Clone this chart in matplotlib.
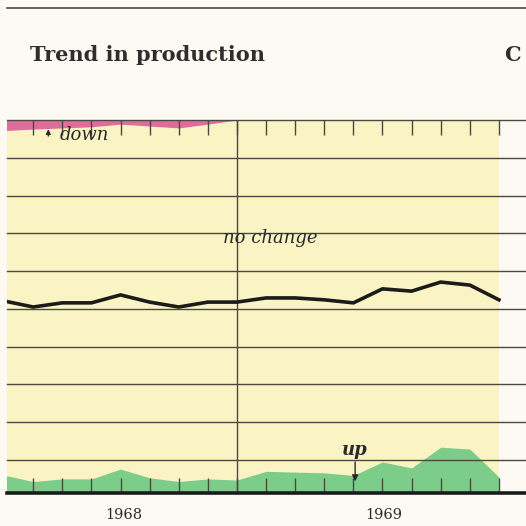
import matplotlib
matplotlib.use("Agg")
import matplotlib.pyplot as plt
from matplotlib.lines import Line2D

# Monthly readings; month 7 is the turn of the year (1968 -> 1969)
months = list(range(-1, 17))
year_turn = 7
years = ["1968", "1969"]
year_centres = [3.1, 12.05]

# Share of firms reporting no change in production (plotted as the line)
no_change = [52.1, 50.5, 51.6, 51.6, 53.7, 51.8, 50.5, 51.8, 51.8,
             52.9, 52.9, 52.4, 51.6, 55.3, 54.7, 57.1, 56.3, 52.4]
# Level reached by the "up" band measured from the base of the panel
up = [6.0, 4.3, 5.0, 5.0, 7.6, 5.3, 4.3, 5.0, 4.7,
      7.0, 6.8, 6.6, 5.9, 9.5, 7.9, 13.4, 12.9, 5.5]
# Depth of the "down" band measured from the top of the panel
down = [2.8, 2.4, 2.1, 1.8, 1.1, 1.6, 2.1, 1.1, 0.0,
        0.0, 0.0, 0.0, 0.0, 0.0, 0.0, 0.0, 0.0, 0.0]

PAPER = "#fcfaf2"
PANEL = "#faf4c4"
GREEN = "#7ccc8a"
PINK = "#e06c9c"
RULE = "#4a4a42"
INK = "#1b1b1b"

y_min, y_max = 1.4, 100
grid_levels = list(range(10, 101, 10))

fig = plt.figure(figsize=(5.26, 5.26), dpi=100, facecolor=PAPER)
W = H = 526.0
ax = fig.add_axes([7 / W, 1 - 492.5 / H, 519 / W, 372.5 / H])
ax.set_facecolor(PAPER)
ax.set_xlim(-0.9, 16.93)
ax.set_ylim(y_min, y_max)

# yellow panel behind the data
ax.axvspan(-0.9, months[-1], color=PANEL, zorder=0, lw=0)

# bands
ax.fill_between(months, y_min, up, color=GREEN, lw=0, zorder=1)
ax.fill_between(months, [y_max - d for d in down], y_max, color=PINK, lw=0, zorder=1)

# horizontal rules
for lvl in grid_levels:
    ax.axhline(lvl, color=RULE, lw=1.0, zorder=2, clip_on=False)

# year divider
ax.axvline(year_turn, color=RULE, lw=1.0, zorder=2)

# the line
ax.plot(months, no_change, color=INK, lw=2.6, zorder=4, solid_joinstyle="miter")

# axes frame and month ticks
for side in ("left", "right", "top"):
    ax.spines[side].set_visible(False)
ax.spines["bottom"].set_color(INK)
ax.spines["bottom"].set_linewidth(2.6)
ax.spines["bottom"].set_zorder(5)
ax.set_xticks(range(0, 17))
ax.set_yticks([])
ax.tick_params(axis="x", direction="in", length=10.5, width=1.0, color=RULE,
               top=True, bottom=True, labelbottom=False, labeltop=False)

# annotations
ax.text(8.15, 67.4, "no change", fontsize=13, family="DejaVu Serif",
        style="italic", color="#2a2a2a", ha="center", va="baseline", zorder=6)
ax.text(0.92, 94.7, "down", fontsize=13, family="DejaVu Serif",
        style="italic", color="#2a2a2a", ha="left", va="baseline", zorder=6)
ax.annotate("", xy=(0.52, 98.3), xytext=(0.52, 95.0),
            arrowprops=dict(arrowstyle="-|>", color="#2a2a2a", lw=0.9,
                            mutation_scale=7), zorder=6)
ax.text(11.06, 11.3, "up", fontsize=13, family="DejaVu Serif",
        style="italic", weight="bold", color="#2a2a2a", ha="center",
        va="baseline", zorder=6)
ax.annotate("", xy=(11.06, 3.6), xytext=(11.06, 10.2),
            arrowprops=dict(arrowstyle="-|>", color="#2a2a2a", lw=1.0,
                            mutation_scale=9), zorder=6)

for label, xc in zip(years, year_centres):
    ax.text(xc, -4.5, label, fontsize=10.5, family="DejaVu Serif",
            color="#2a2a2a", ha="center", va="center", clip_on=False)

# heading
fig.add_artist(Line2D([7 / W, 1.0], [1 - 8 / H, 1 - 8 / H],
                      transform=fig.transFigure, color=RULE, lw=1.2))
fig.text(30 / W, 1 - 61 / H, "Trend in production", fontsize=15,
         family="DejaVu Serif", weight="bold", color="#2e2e2e", va="baseline")
fig.text(504 / W, 1 - 61 / H, "C", fontsize=15,
         family="DejaVu Serif", weight="bold", color="#2e2e2e", va="baseline")

fig.savefig("out.png", dpi=100, facecolor=PAPER)
